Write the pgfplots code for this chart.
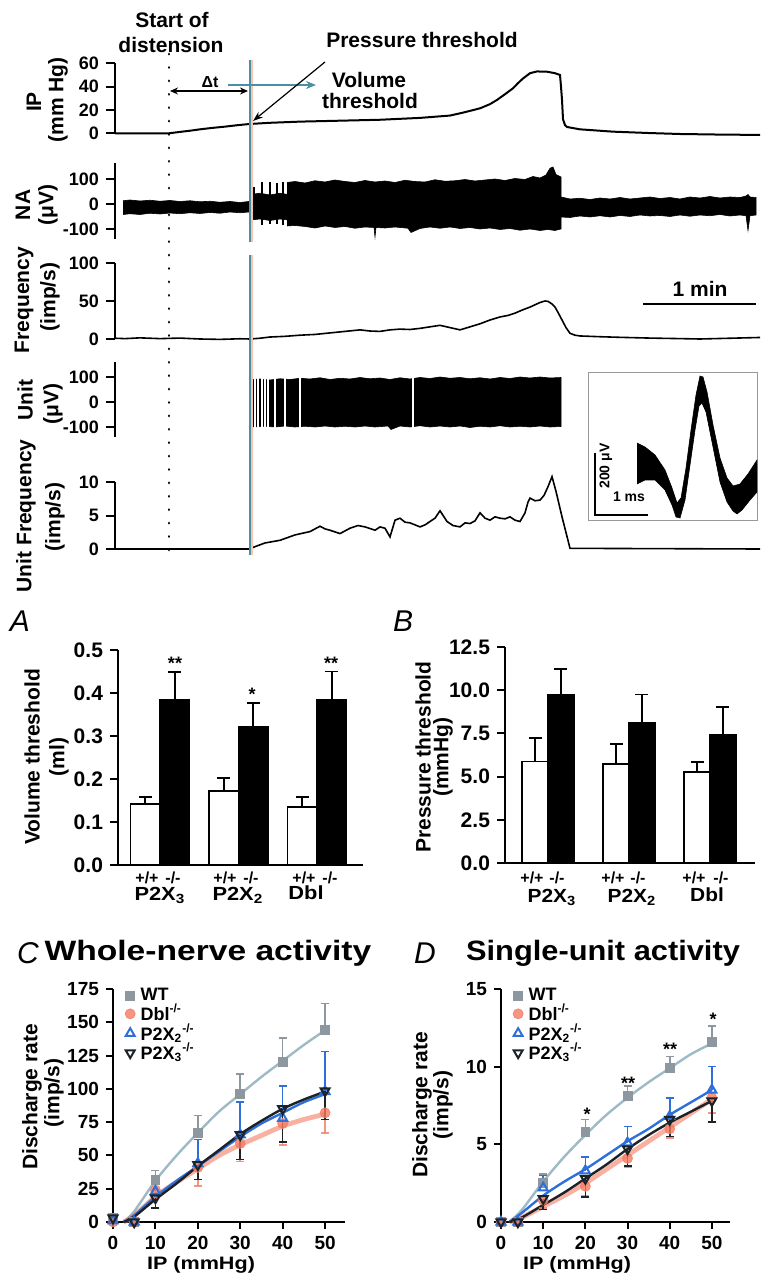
\documentclass[border=0pt]{standalone}
\usepackage{fontspec}
\setmainfont{Liberation Sans}
\usepackage{pgfplots}
\pgfplotsset{compat=1.18}
\usetikzlibrary{arrows.meta}
\definecolor{teal1}{HTML}{4A8FA6}
\definecolor{orl}{HTML}{F7C4AE}
\definecolor{wtg}{HTML}{8C979F}
\definecolor{wtl}{HTML}{9DBAC6}
\definecolor{dbl}{HTML}{F47B63}
\definecolor{pxb}{HTML}{2F6FD9}
\definecolor{pxk}{HTML}{1C2328}
\newcommand\fs[1]{\fontsize{#1}{#1}\selectfont\bfseries}
\newcommand\hs[2]{\scalebox{#1}[1]{#2}}
\pgfplotsset{
  trace/.style={anchor=south west, scale only axis, width=322.5pt, xmin=115, xmax=760,
    axis x line=none, axis y line=left, axis line style={-, line width=1pt},
    tick align=outside, major tick length=4.5pt, ytick style={line width=1pt, black},
    tick label style={font=\fs{9}}, clip=false, /pgf/number format/assume math mode=true,
    unbounded coords=jump},
  bars/.style={anchor=south west, scale only axis, axis lines=left, axis line style={-, line width=1pt},
    xtick=\empty, tick align=outside, major tick length=4pt, ytick style={line width=1pt, black},
    yticklabel style={/pgf/number format/.cd, fixed, fixed zerofill, precision=1},
    tick label style={font=\fs{10.5}}, clip=false, /pgf/number format/assume math mode=true},
  wbar/.style={ybar, bar width=#1, bar shift=0pt, fill=white, draw=black, line width=0.9pt,
    error bars/.cd, y dir=plus, y explicit, error bar style={line width=0.9pt, black},
    error mark options={rotate=90, mark size=3.2pt, line width=0.9pt, black}},
  kbar/.style={ybar, bar width=#1, bar shift=0pt, fill=black, draw=black, line width=0.9pt,
    error bars/.cd, y dir=plus, y explicit, error bar style={line width=0.9pt, black},
    error mark options={rotate=90, mark size=3.2pt, line width=0.9pt, black}},
  curves/.style={anchor=south west, scale only axis, axis lines=left, axis line style={-, line width=1pt},
    tick align=outside, major tick length=3.5pt, tick style={line width=1pt, black},
    tick label style={font=\fs{9.5}}, clip=false, /pgf/number format/assume math mode=true,
    legend cell align=left,
    legend style={draw=none, fill=none, font=\fs{9}, anchor=north west, row sep=-0.9pt,
      nodes={inner sep=0.5pt}, /tikz/every odd column/.append style={column sep=2.2pt}},
    legend image code/.code={\draw[#1] plot coordinates {(0pt,0pt)};}},
  ebar/.style={error bars/.cd, y explicit, y dir=#1, error bar style={line width=0.8pt},
    error mark options={rotate=90, mark size=2pt, line width=0.8pt}},
}
\begin{document}
\begin{tikzpicture}[x=0.5pt,y=-0.5pt]
\path[use as bounding box] (0,0) rectangle (760,1277);

% ---------------- IP ----------------
\begin{axis}[trace, at={(57.5pt,-66.65pt)}, height=35pt, ymin=0, ymax=60, ytick={0,20,40,60}]
\addplot[black, line width=1pt] coordinates {
(115,0) (169,0) (180,1.2) (190,2.2) (200,3.4) (212,4.6) (225,5.7) (238,7) (250,8) (270,9) (300,10)
(340,10.8) (380,11.6) (420,13.2) (450,15.2) (463,17.7) (480,21.4) (490,25) (497,28.6) (505,33.5)
(513,38.6) (518,43) (523,47) (530,51.5) (537,53) (547,52.8) (555,51.5) (560,50) (561,40) (562,28.6)
(563,12) (565,7) (567,5.4) (580,3.4) (613,1.4) (650,0.2) (680,-0.6) (720,-1.1) (760,-1.4)};
\end{axis}

% ---------------- NA ----------------
\begin{axis}[trace, at={(57.5pt,-119.75pt)}, height=38.125pt, ymin=-140, ymax=165, ytick={-100,0,100}]
\addplot[fill=black, draw=black, line width=0.3pt] coordinates {
(123,15) (130,18) (140,14) (150,17) (160,13) (170,16) (180,12) (190,15) (200,11) (210,13) (220,9) (230,12)
(240,8) (249,12) (249,-30) (240,-33) (230,-30) (220,-35) (210,-32) (200,-36) (190,-33) (180,-37) (170,-34)
(160,-38) (150,-35) (140,-40) (130,-37) (123,-40)};
\addplot[fill=black, draw=black, line width=0.3pt] coordinates {
(250,40) (260,45) (270,38) (280,45) (288,40) (288,-62) (280,-58) (270,-64) (260,-58) (250,-62)};
\addplot[black, line width=0.7pt] coordinates {
(252,-84) (252,88) (253,nan) (254,-60) (254,70) (255,nan) (262,-84) (262,90) (263,nan)
(270,-80) (270,88) (271,nan) (277,-78) (277,86) (278,nan) (283,-84) (283,90)};
\addplot[fill=black, draw=black, line width=0.3pt] coordinates {
(287,88) (295,92) (305,86) (315,95) (325,90) (335,98) (345,92) (355,88) (365,96) (375,90) (385,94)
(395,88) (405,97) (415,92) (425,90) (435,99) (445,93) (455,95) (465,100) (475,94) (485,98) (495,102)
(505,96) (515,104) (525,100) (533,112) (540,106) (546,118) (550,145) (553,150) (556,120) (561,110)
(561,-98) (555,-104) (548,-100) (540,-104) (530,-98) (520,-103) (510,-96) (500,-100) (490,-94)
(480,-98) (470,-92) (460,-96) (450,-90) (440,-95) (430,-90) (420,-96) (411,-112) (408,-95) (395,-90)
(385,-94) (376,-92) (375,-130) (374,-92) (365,-90) (355,-95) (345,-88) (335,-92) (325,-86) (315,-94)
(305,-88) (295,-84) (287,-86)};
\addplot[fill=black, draw=black, line width=0.3pt] coordinates {
(561,30) (570,22) (580,25) (590,20) (600,26) (610,22) (620,28) (630,22) (640,26) (650,30) (660,24)
(670,28) (680,22) (690,30) (700,26) (710,32) (720,26) (730,30) (740,28) (746,34) (748,40) (750,30)
(756,28) (756,-42) (750,-45) (748,-104) (746,-45) (740,-42) (730,-46) (720,-40) (710,-45) (700,-42)
(690,-47) (680,-42) (670,-48) (660,-44) (650,-46) (640,-42) (630,-48) (620,-44) (610,-50) (600,-45)
(590,-50) (580,-46) (570,-52) (561,-50)};
\end{axis}

% ---------------- Frequency ----------------
\begin{axis}[trace, at={(57.5pt,-169.5pt)}, height=38pt, ymin=0, ymax=100, ytick={0,50,100}]
\addplot[black, line width=0.8pt] coordinates {
(115,1) (125,0.5) (140,1.5) (160,0.5) (180,1.2) (200,0) (220,-0.5) (240,0.3) (250,0) (260,1) (270,2.6)
(285,3.5) (300,5) (315,6) (330,8) (345,10) (360,12) (370,10.5) (380,10) (390,12) (400,13) (410,12.5)
(420,14) (430,16) (440,18) (450,15) (460,12) (470,16) (480,20) (490,25) (500,29) (508,31) (515,34)
(522,38) (530,42) (535,45) (540,48) (545,50) (548,49.5) (552,46) (555,42) (558,35) (562,25) (566,15)
(570,7.5) (575,5) (580,4) (600,3) (620,2.2) (650,1.2) (680,0.5) (700,0) (730,1) (760,2)};
\end{axis}

% ---------------- Unit ----------------
\begin{axis}[trace, at={(57.5pt,-218.5pt)}, height=37.5pt, ymin=-140, ymax=160, ytick={-100,0,100}]
\addplot[fill=black, draw=black, line width=0.3pt] coordinates {
(250,90) (260,92) (270,88) (280,93) (290,90) (300,95) (310,92) (320,97) (330,90) (340,95) (350,92)
(360,98) (370,93) (380,96) (390,90) (400,97) (410,92) (420,98) (430,94) (440,100) (450,95) (460,98)
(470,93) (480,97) (490,92) (500,98) (510,94) (520,100) (530,96) (540,100) (550,96) (561,98)
(561,-98) (550,-100) (540,-96) (530,-100) (520,-97) (510,-100) (500,-95) (490,-100) (480,-97)
(470,-102) (460,-96) (450,-100) (440,-96) (430,-100) (420,-95) (410,-100) (400,-96) (391,-110)
(388,-96) (375,-100) (365,-96) (355,-100) (345,-97) (335,-100) (325,-96) (315,-100) (305,-97)
(295,-100) (285,-96) (275,-100) (265,-97) (255,-100) (250,-98)};
\addplot[white, line width=0.6pt] coordinates {
(255,-110) (255,110) (256,nan) (258,-110) (258,110) (259,nan) (262,-110) (262,110) (263,nan)
(265,-110) (265,110) (266,nan) (268,-110) (268,110) (269,nan) (275,-110) (275,110) (276,nan)
(285,-110) (285,110) (286,nan) (300,-110) (300,110) (301,nan) (413,-110) (413,110)};
\end{axis}

% ---------------- Unit frequency ----------------
\begin{axis}[trace, at={(57.5pt,-274.5pt)}, height=33.5pt, ymin=0, ymax=10, ytick={0,5,10}]
\addplot[black, line width=0.8pt] coordinates {
(115,0) (250,0) (255,0.35) (265,0.9) (280,1.3) (295,2.1) (310,2.6) (320,3.4) (325,3.0) (330,2.8)
(340,2.3) (350,3.1) (358,3.5) (365,3.3) (375,2.8) (380,3.3) (385,3.1) (390,1.8) (395,4.3) (400,4.6)
(405,4.0) (410,3.9) (415,3.6) (420,3.3) (425,3.6) (430,4.1) (435,4.6) (440,5.7) (444,4.8) (447,4.1)
(453,3.5) (460,3.3) (465,3.9) (470,3.8) (475,4.2) (480,5.4) (485,4.6) (490,4.3) (495,4.8) (500,4.6)
(505,4.5) (510,4.8) (515,4.3) (520,4.1) (525,5.4) (528,7.0) (530,7.6) (535,7.2) (540,7.3) (544,8.0)
(548,9.3) (552,10.8) (556,8.6) (562,4.8) (570,0.1) (760,0)};
\end{axis}

% ---------------- Inset waveform ----------------
\begin{axis}[anchor=south west, at={(294pt,-260pt)}, scale only axis, width=84.5pt, height=73.5pt,
  xmin=588, xmax=757, ymin=-520, ymax=-373, ticks=none, axis line style={gray!80, line width=0.5pt}]
\addplot[fill=black, draw=black, line width=0.3pt] coordinates {
(637,-443) (645,-447) (655,-455) (665,-470) (672,-488) (677,-503) (681,-498) (686,-468) (691,-430)
(696,-395) (700,-376) (703,-377) (707,-392) (713,-425) (720,-458) (727,-478) (733,-486) (740,-484)
(748,-474) (757,-460) (757,-492) (750,-500) (742,-510) (737,-514) (733,-511) (727,-502) (720,-482)
(712,-442) (706,-412) (702,-403) (699,-406) (695,-430) (690,-465) (685,-500) (680,-518) (676,-517)
(672,-505) (665,-490) (655,-480) (645,-480) (637,-484)};
\end{axis}

% ---------------- Bar chart A ----------------
\begin{axis}[bars, at={(59pt,-432.5pt)}, width=122.5pt, height=107.5pt, xmin=-0.535, xmax=2.586,
  ymin=0, ymax=0.5, ytick={0,0.1,0.2,0.3,0.4,0.5}]
\addplot[wbar=0.376] coordinates {(-0.188,0.142) +- (0,0.016) (0.812,0.172) +- (0,0.031) (1.812,0.134) +- (0,0.025)};
\addplot[kbar=0.376] coordinates {(0.188,0.384) +- (0,0.064) (1.188,0.322) +- (0,0.054) (2.188,0.385) +- (0,0.065)};
\end{axis}

% ---------------- Bar chart B ----------------
\begin{axis}[bars, at={(252.5pt,-431.5pt)}, width=125pt, height=108pt, xmin=-0.531, xmax=2.556,
  ymin=0, ymax=12.5, ytick={0,2.5,5,7.5,10,12.5}]
\addplot[wbar=0.327] coordinates {(-0.157,5.87) +- (0,1.38) (0.843,5.73) +- (0,1.15) (1.843,5.25) +- (0,0.58)};
\addplot[kbar=0.327] coordinates {(0.157,9.71) +- (0,1.54) (1.157,8.08) +- (0,1.67) (2.157,7.40) +- (0,1.64)};
\end{axis}

% ---------------- C ----------------
\begin{axis}[curves, at={(56.5pt,-611pt)}, width=116pt, height=116.5pt, xmin=0, xmax=54.7,
  ymin=0, ymax=175, xtick={0,10,20,30,40,50}, ytick={0,25,50,75,100,125,150,175},
  legend style={at={(0.025,1.025)}}]
\addplot[forget plot, smooth, wtl, line width=1.2pt] coordinates {(2.5,0) (5,8) (10,31) (15,50) (20,67) (25,83) (30,96) (35,109) (40,121) (45,133) (50,144)};
\addplot[forget plot, smooth, dbl, opacity=0.6, line width=2.4pt] coordinates {(2.5,0) (5,5) (10,19) (15,30) (20,40) (25,50) (30,58) (35,65) (40,72) (45,77) (50,81)};
\addplot[forget plot, smooth, pxb, line width=1.2pt] coordinates {(2.5,0) (5,5) (10,19) (15,31) (20,42) (25,53) (30,64) (35,74) (40,82) (45,90) (50,96)};
\addplot[forget plot, smooth, pxk, line width=1.2pt] coordinates {(2.5,0) (5,4) (10,17) (15,29) (20,42) (25,54) (30,66) (35,76) (40,85) (45,92) (50,98)};
\addplot[only marks, wtg, mark=square*, mark size=2.2pt, ebar=plus] coordinates {
(0,3) +- (0,0) (5,0) +- (0,0) (10,31.8) +- (0,7) (20,67) +- (0,13) (30,96) +- (0,15) (40,120.5) +- (0,17.5) (50,144) +- (0,20)};
\addlegendentry{WT}
\addplot[only marks, dbl, opacity=0.8, mark=*, mark size=2.5pt, ebar=minus] coordinates {
(0,0) +- (0,0) (5,0) +- (0,0) (10,24) +- (0,6) (20,41) +- (0,14) (30,59) +- (0,13.5) (40,74) +- (0,16) (50,82) +- (0,15)};
\addlegendentry{Dbl\textsuperscript{-/-}}
\addplot[only marks, pxb, mark=triangle, mark size=2.6pt, mark options={line width=1pt}, ebar=plus] coordinates {
(0,1) +- (0,0) (5,0) +- (0,0) (10,23) +- (0,8) (20,44) +- (0,18) (30,65.5) +- (0,24.5) (40,78) +- (0,24) (50,98) +- (0,30)};
\addlegendentry{P2X\textsubscript{2}\textsuperscript{-/-}}
\addplot[only marks, pxk, mark=triangle, mark size=2.6pt, mark options={rotate=180, line width=1pt}, ebar=minus] coordinates {
(0,3) +- (0,0) (5,0) +- (0,0) (10,18) +- (0,7.5) (20,43) +- (0,11) (30,65.5) +- (0,18.5) (40,85) +- (0,25) (50,98.5) +- (0,21.5)};
\addlegendentry{P2X\textsubscript{3}\textsuperscript{-/-}}
\end{axis}

% ---------------- D ----------------
\begin{axis}[curves, at={(250.5pt,-611pt)}, width=114.5pt, height=116.5pt, xmin=0, xmax=54.3,
  ymin=0, ymax=15, xtick={0,10,20,30,40,50}, ytick={0,5,10,15},
  legend style={at={(0.025,1.025)}}]
\addplot[forget plot, smooth, wtl, line width=1.2pt] coordinates {(2,0) (5,0.8) (10,2.6) (15,4.2) (20,5.6) (25,6.9) (30,8.0) (35,9.0) (40,9.9) (45,10.8) (50,11.5)};
\addplot[forget plot, smooth, dbl, opacity=0.6, line width=2.4pt] coordinates {(2,0) (5,0.3) (10,1.0) (15,1.7) (20,2.5) (25,3.4) (30,4.3) (35,5.2) (40,6.1) (45,7.0) (50,7.9)};
\addplot[forget plot, smooth, pxb, line width=1.2pt] coordinates {(2,0) (5,0.6) (10,1.7) (15,2.6) (20,3.4) (25,4.3) (30,5.2) (35,6.0) (40,6.9) (45,7.7) (50,8.5)};
\addplot[forget plot, smooth, pxk, line width=1.2pt] coordinates {(2,0) (5,0.3) (10,1.1) (15,1.9) (20,2.8) (25,3.7) (30,4.7) (35,5.6) (40,6.4) (45,7.1) (50,7.8)};
\addplot[only marks, wtg, mark=square*, mark size=2.2pt, ebar=plus] coordinates {
(0,0) +- (0,0) (4,0) +- (0,0) (10,2.5) +- (0,0.6) (20,5.8) +- (0,0.8) (30,8.1) +- (0,0.65) (40,9.9) +- (0,0.75) (50,11.6) +- (0,1.0)};
\addlegendentry{WT}
\addplot[only marks, dbl, opacity=0.8, mark=*, mark size=2.5pt, ebar=minus] coordinates {
(0,0) +- (0,0) (4,0) +- (0,0) (10,1.4) +- (0,0.5) (20,2.3) +- (0,0.6) (30,4.1) +- (0,0.6) (40,6.0) +- (0,0.6) (50,8.0) +- (0,1.0)};
\addlegendentry{Dbl\textsuperscript{-/-}}
\addplot[only marks, pxb, mark=triangle, mark size=2.6pt, mark options={line width=1pt}, ebar=plus] coordinates {
(0,0) +- (0,0) (4,0) +- (0,0) (10,2.2) +- (0,0.8) (20,3.3) +- (0,0.9) (30,5.1) +- (0,1.05) (40,6.8) +- (0,1.2) (50,8.5) +- (0,1.5)};
\addlegendentry{P2X\textsubscript{2}\textsuperscript{-/-}}
\addplot[only marks, pxk, mark=triangle, mark size=2.6pt, mark options={rotate=180, line width=1pt}, ebar=minus] coordinates {
(0,0) +- (0,0) (4,0) +- (0,0) (10,1.5) +- (0,0.7) (20,2.8) +- (0,1.2) (30,4.7) +- (0,1.1) (40,6.6) +- (0,1.1) (50,7.8) +- (0,1.35)};
\addlegendentry{P2X\textsubscript{3}\textsuperscript{-/-}}
\end{axis}

% ---------------- annotations (top) ----------------
\draw[black, line width=1.4pt, line cap=round, dash pattern=on 0.1pt off 6.6pt] (169,54) -- (169,553);
\draw[orl, line width=0.7pt] (252,60) -- (252,242) (252,255) -- (252,555);
\draw[teal1, line width=1.3pt] (250,60) -- (250,242) (250,255) -- (250,555);
\draw[teal1, line width=0.8pt, -{Stealth[length=5pt,width=4pt]}] (228,85) -- (316,85);
\draw[black, line width=0.6pt, {Stealth[length=4pt,width=3.5pt]}-{Stealth[length=4pt,width=3.5pt]}] (170,91) -- (248,91);
\node[font=\fs{8}] at (210,82) {Δt};
\draw[black, line width=0.6pt, -{Stealth[length=5pt,width=3.5pt]}] (325,62) -- (253,121);
\node[font=\fs{10.5}] at (172,20) {Start of};
\node[font=\fs{10.5}] at (171,45) {distension};
\node[font=\fs{10.5}] at (422,40) {Pressure threshold};
\node[font=\fs{10.5}] at (369,80) {Volume};
\node[font=\fs{10.5}] at (370,101) {threshold};
\draw[black, line width=1pt] (643,304) -- (756,304);
\node[font=\fs{10.5}] at (700,289) {1 min};
\draw[black, line width=0.8pt] (595,453) -- (595,515) -- (648,515);
\node[font=\fs{7}, rotate=90] at (606,466) {200 μV};
\node[font=\fs{7}] at (629,497) {1 ms};
% y labels top
\node[font=\fs{10.5}, rotate=90] at (34,102) {IP};
\node[font=\fs{10.5}, rotate=90] at (58,100) {(mm Hg)};
\node[font=\fs{10.5}, rotate=90] at (23,205) {NA};
\node[font=\fs{10.5}, rotate=90] at (48,205) {(μV)};
\node[font=\fs{10.5}, rotate=90] at (24,300) {Frequency};
\node[font=\fs{10.5}, rotate=90] at (50,297) {(imp/s)};
\node[font=\fs{10.5}, rotate=90] at (25,400) {Unit};
\node[font=\fs{10.5}, rotate=90] at (53,404) {(μV)};
\node[font=\fs{10.5}, rotate=90] at (26,516) {Unit Frequency};
\node[font=\fs{10.5}, rotate=90] at (55,517) {(imp/s)};

% ---------------- annotations (A, B) ----------------
\node[font=\fontsize{15}{15}\selectfont\itshape] at (20,621) {A};
\node[font=\fontsize{15}{15}\selectfont\itshape] at (403,621) {B};
\node[font=\fs{10.5}, rotate=90] at (32,757) {Volume threshold};
\node[font=\fs{10.5}, rotate=90] at (59,757) {(ml)};
\node[font=\fs{10.5}, rotate=90] at (423,757) {Pressure threshold};
\node[font=\fs{10.5}, rotate=90] at (443,757) {(mmHg)};
\node[font=\fs{9}] at (175,663) {**};
\node[font=\fs{9}] at (252,694) {*};
\node[font=\fs{9}] at (331,663) {**};
\node[font=\fs{8}] at (147,878) {+/+};
\node[font=\fs{8}] at (173,878) {-/-};
\node[font=\fs{8}] at (225,878) {+/+};
\node[font=\fs{8}] at (251,878) {-/-};
\node[font=\fs{8}] at (304,878) {+/+};
\node[font=\fs{8}] at (330,878) {-/-};
\node[font=\fs{8}] at (532,878) {+/+};
\node[font=\fs{8}] at (557,878) {-/-};
\node[font=\fs{8}] at (613,878) {+/+};
\node[font=\fs{8}] at (638,878) {-/-};
\node[font=\fs{8}] at (694,878) {+/+};
\node[font=\fs{8}] at (721,878) {-/-};
\node[font=\fs{9.5}] at (160,895) {\hs{1.15}{P2X\textsubscript{3}}};
\node[font=\fs{9.5}] at (238,895) {\hs{1.15}{P2X\textsubscript{2}}};
\node[font=\fs{9.5}] at (306,893) {\hs{1.15}{Dbl}};
\node[font=\fs{9.5}] at (552,897) {\hs{1.1}{P2X\textsubscript{3}}};
\node[font=\fs{9.5}] at (632,897) {\hs{1.1}{P2X\textsubscript{2}}};
\node[font=\fs{9.5}] at (707,895) {\hs{1.1}{Dbl}};

% ---------------- annotations (C, D) ----------------
\node[font=\fontsize{15}{15}\selectfont\itshape] at (28,953) {C};
\node[font=\fontsize{15}{15}\selectfont\itshape] at (425,953) {D};
\node[font=\fs{14}] at (208,953) {\hs{1.2}{Whole-nerve activity}};
\node[font=\fs{14}] at (603,953) {\hs{1.1}{Single-unit activity}};
\node[font=\fs{10.5}, rotate=90] at (32,1097) {Discharge rate};
\node[font=\fs{10.5}, rotate=90] at (54,1093) {(imp/s)};
\node[font=\fs{10.5}, rotate=90] at (422,1105) {Discharge rate};
\node[font=\fs{10.5}, rotate=90] at (443,1105) {(imp/s)};
\node[font=\fs{9}] at (201,1265) {\hs{1.2}{IP (mmHg)}};
\node[font=\fs{9}] at (577,1265) {\hs{1.2}{IP (mmHg)}};
\node[font=\fs{9}] at (587,1114) {*};
\node[font=\fs{9}] at (628,1083) {**};
\node[font=\fs{9}] at (670,1049) {**};
\node[font=\fs{9}] at (713,1019) {*};
\end{tikzpicture}
\end{document}
